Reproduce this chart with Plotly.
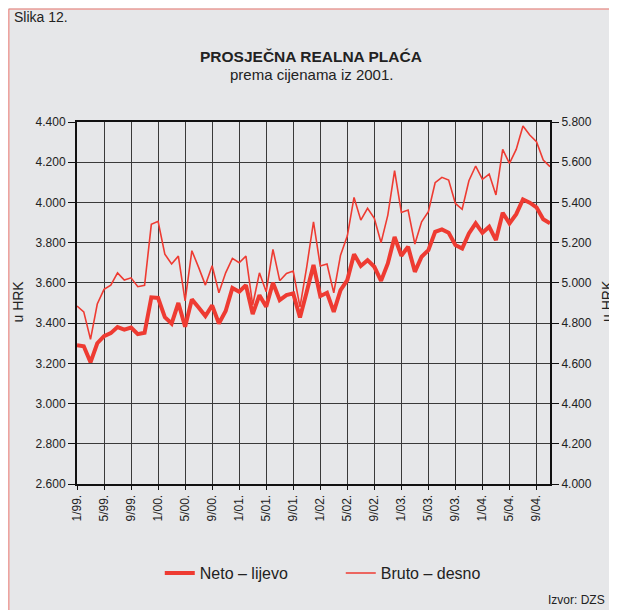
"""Prosječna realna plaća — neto (lijevo) i bruto (desno), 1/99.–11/04."""

import plotly.graph_objects as go

_FONT  = 'Liberation Sans, Arial, sans-serif'
_RED   = '#ee3b32'
_GRID  = '#3a3a3a'
_BG    = '#e6e7e9'

# ── data ──────────────────────────────────────────────────────────────────────

years  = ['99', '00', '01', '02', '03', '04']
months = [f'{m}/{y}.' for y in years for m in range(1, 13)][:71]   # 1/99. … 11/04.

neto = [
    3290, 3285, 3205, 3300, 3335, 3350, 3380, 3368, 3378, 3345, 3352, 3528,
    3525, 3430, 3398, 3500, 3382, 3518, 3478, 3435, 3488, 3398, 3460, 3575,
    3556, 3589, 3445, 3539, 3481, 3601, 3514, 3539, 3548, 3428, 3556, 3689,
    3534, 3551, 3456, 3564, 3614, 3743, 3684, 3713, 3680, 3610, 3697, 3828,
    3735, 3780, 3655, 3730, 3763, 3854, 3866, 3849, 3788, 3771, 3846, 3896,
    3849, 3879, 3813, 3949, 3896, 3942, 4015, 3999, 3976, 3916, 3896,
]

bruto = [
    4885, 4856, 4719, 4895, 4968, 4989, 5050, 5014, 5025, 4981, 4988, 5291,
    5306, 5143, 5094, 5133, 4911, 5160, 5077, 4989, 5085, 4951, 5050, 5122,
    5100, 5133, 4890, 5050, 4956, 5167, 5011, 5047, 5059, 4881, 5080, 5304,
    5084, 5094, 4951, 5138, 5233, 5425, 5312, 5371, 5321, 5200, 5337, 5558,
    5350, 5362, 5193, 5304, 5354, 5498, 5525, 5511, 5395, 5366, 5508, 5581,
    5515, 5541, 5437, 5664, 5594, 5664, 5780, 5735, 5702, 5611, 5578,
]

x_ticks = ['1/99.', '5/99.', '9/99.', '1/00.', '5/00.', '9/00.', '1/01.', '5/01.', '9/01.',
           '1/02.', '5/02.', '9/02.', '1/03.', '5/03.', '9/03.', '1/04.', '5/04.', '9/04.']

# ── figure ────────────────────────────────────────────────────────────────────

fig = go.Figure()
fig.add_trace(go.Scatter(
    x=months, y=neto, name='Neto – lijevo', mode='lines',
    line=dict(color=_RED, width=4),
))
fig.add_trace(go.Scatter(
    x=months, y=bruto, name='Bruto – desno', mode='lines', yaxis='y2',
    line=dict(color=_RED, width=1.6),
))

_axis = dict(
    showline=True, linecolor='#111', linewidth=2,
    ticks='outside', tickcolor='#111', tickwidth=1,
    tickfont=dict(family=_FONT, size=12, color='#222'),
)

# page body adds an 8px margin, so the figure is 8px smaller than the window
fig.update_layout(
    width=609, height=602,
    margin=dict(l=69, r=67, t=114, b=126),
    paper_bgcolor=_BG, plot_bgcolor=_BG,
    separators=',.',
    font=dict(family=_FONT, color='#222'),
    showlegend=True,
    legend=dict(
        orientation='h', x=0.175, xanchor='left', y=-0.246, yanchor='middle',
        font=dict(family=_FONT, size=16, color='#222'),
        bgcolor='rgba(0,0,0,0)', entrywidth=136, entrywidthmode='pixels',
    ),
    xaxis=dict(
        **_axis, type='category', range=[0, 70],
        tickvals=x_ticks, ticktext=x_ticks, tickangle=-90, ticklen=4,
        mirror=True, showgrid=True, gridcolor=_GRID, gridwidth=1.3,
    ),
    yaxis=dict(
        **_axis, range=[2600, 4400], dtick=200, tickformat=',.0f', ticklen=7,
        showgrid=True, gridcolor=_GRID, gridwidth=1.3, zeroline=False,
    ),
    yaxis2=dict(
        **_axis, range=[4000, 5800], dtick=200, tickformat=',.0f', ticklen=7,
        overlaying='y', side='right', showgrid=False, zeroline=False,
    ),
)

# thin red frame along the top and left edge of the panel
fig.add_shape(type='rect', xref='paper', yref='paper', layer='below',
              x0=-0.144, x1=1.2, y0=-0.4, y1=1.312,
              line=dict(color='#f07a72', width=1))

_ann = dict(xref='paper', yref='paper', showarrow=False, font=dict(family=_FONT, color='#222'))
fig.add_annotation(**_ann, x=-0.138, y=1.29, xanchor='left', yanchor='middle',
                   text='Slika 12.', font_size=14)
fig.add_annotation(**_ann, x=0.495, y=1.181, xanchor='center', yanchor='middle',
                   text='<b>PROSJEČNA REALNA PLAĆA</b>', font_size=15.5)
fig.add_annotation(**_ann, x=0.495, y=1.130, xanchor='center', yanchor='middle',
                   text='prema cijenama iz 2001.', font_size=15)
fig.add_annotation(**_ann, x=-0.124, y=0.505, xanchor='center', yanchor='middle',
                   text='u HRK', textangle=-90, font_size=14)
fig.add_annotation(**_ann, x=1.12, y=0.505, xanchor='center', yanchor='middle',
                   text='u HRK', textangle=-90, font_size=14)
fig.add_annotation(**_ann, x=1.12, y=-0.32, xanchor='right', yanchor='middle',
                   text='Izvor: DZS', font_size=12)

fig.write_html('out.html')
